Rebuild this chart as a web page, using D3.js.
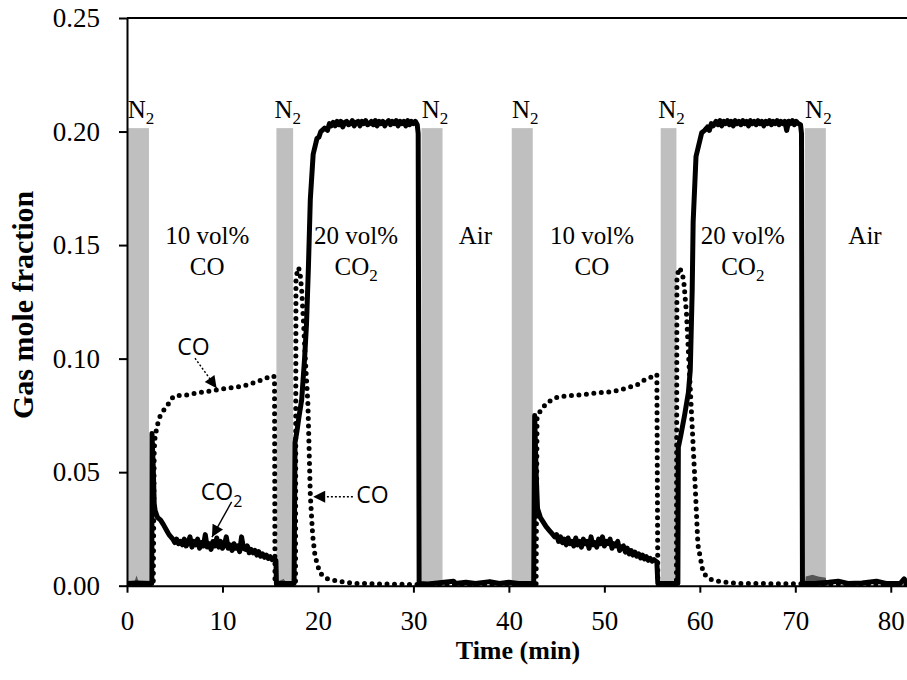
<!DOCTYPE html>
<html>
<head>
<meta charset="utf-8">
<script src="https://cdn.jsdelivr.net/npm/d3@7"></script>
<style>
  body { margin: 0; background: #fff; }
  svg text { font-family: "Liberation Serif", "Times New Roman", serif; fill: #000; }
  .note { font-family: "Open Sans", sans-serif; }
  .axis path, .axis line { stroke: #000; stroke-width: 2; }
</style>
</head>
<body>
<svg id="chart" width="907" height="680"></svg>
<script>
// N2 purge windows (min)
const n2Start = [0, 15.65, 30.85, 40.3, 55.9, 71.0];
const n2End   = [2.3, 17.4, 33.05, 42.5, 57.55, 73.2];
const n2Top = 0.2015;

// gas phases written between the purges
const phaseLine1 = ['10 vol%', '20 vol%', 'Air', '10 vol%', '20 vol%', 'Air'];
const phaseLine2 = ['CO', 'CO', '', 'CO', 'CO', ''];
const phaseSub   = ['', '2', '', '', '2', ''];
const phaseAt    = [8.4, 24.0, 36.5, 48.7, 64.5, 77.3];

// CO2 outlet fraction [min, fraction] (solid line)
const co2Data = [
  [0, 0.001], [1, 0.0012], [2.6, 0.001], [2.62, 0.067], [2.75, 0.052], [2.85, 0.036], [2.95, 0.033],
  [3.2, 0.030], [3.5, 0.029], [3.8, 0.027], [4.2, 0.024], [4.4, 0.0225],
  [4.6, 0.0215], [4.8, 0.0205], [5.0, 0.019], [5.2, 0.0205], [5.4, 0.0185], [5.6, 0.0195], [5.8, 0.018],
  [6.0, 0.0205], [6.2, 0.0175], [6.4, 0.019], [6.6, 0.0215], [6.8, 0.017], [7.0, 0.0195], [7.2, 0.018],
  [7.4, 0.0205], [7.6, 0.0165], [7.8, 0.019], [8.0, 0.0175], [8.2, 0.0225], [8.4, 0.017], [8.6, 0.0185],
  [8.8, 0.016], [9.0, 0.0195], [9.2, 0.0175], [9.4, 0.021], [9.6, 0.017], [9.8, 0.0195], [10.0, 0.0165],
  [10.2, 0.018], [10.4, 0.0215], [10.6, 0.0165], [10.8, 0.018], [11.0, 0.0155], [11.2, 0.0185],
  [11.4, 0.0165], [11.6, 0.0175], [11.8, 0.015], [12.0, 0.0215], [12.2, 0.0165], [12.4, 0.016],
  [12.6, 0.0175], [12.8, 0.0145], [13.0, 0.016], [13.2, 0.0145], [13.4, 0.0155], [13.6, 0.0135],
  [13.8, 0.015], [14.0, 0.013], [14.2, 0.014], [14.4, 0.0125], [14.6, 0.0135], [14.8, 0.012],
  [15.0, 0.0128], [15.2, 0.0115], [15.4, 0.012], [15.6, 0.011],
  [15.65, 0.001], [17.5, 0.001], [17.6, 0.063], [17.8, 0.068], [18.0, 0.074], [18.3, 0.082], [18.6, 0.10],
  [18.8, 0.115], [19.0, 0.14], [19.2, 0.17], [19.5, 0.19], [19.9, 0.197], [20.1, 0.1975], [20.3, 0.200],
  [20.7, 0.2015], [21.0, 0.2005], [21.2, 0.2035], [21.4, 0.2025], [21.6, 0.204], [21.8, 0.2025],
  [22.0, 0.2045], [22.2, 0.203], [22.4, 0.2045], [22.6, 0.202], [22.8, 0.204], [23.0, 0.2045],
  [23.2, 0.203], [23.4, 0.2035], [23.6, 0.2048], [23.8, 0.2025], [24.0, 0.204], [24.2, 0.2045],
  [24.4, 0.2025], [24.6, 0.2045], [24.8, 0.2035], [25.0, 0.2048], [25.2, 0.203], [25.4, 0.2035],
  [25.6, 0.2045], [25.8, 0.203], [26.0, 0.2048], [26.2, 0.2025], [26.4, 0.2045], [26.6, 0.2035],
  [26.8, 0.2045], [27.0, 0.2025], [27.2, 0.204], [27.4, 0.2048], [27.6, 0.203], [27.8, 0.2045],
  [28.0, 0.2035], [28.2, 0.2048], [28.4, 0.2025], [28.6, 0.2045], [28.8, 0.2035], [29.0, 0.2045],
  [29.2, 0.2025], [29.4, 0.2048], [29.6, 0.203], [29.8, 0.2045], [30.0, 0.2035], [30.2, 0.2045],
  [30.4, 0.203], [30.5, 0.199], [30.6, 0.001], [31.5, 0.0008], [32.5, 0.0012],
  [34.2, 0.002], [34.4, 0.001], [35.5, 0.0015], [36.5, 0.001], [38.0, 0.0018], [39.0, 0.001],
  [40.0, 0.0015], [41.0, 0.001], [42.6, 0.001],
  [42.7, 0.075], [42.85, 0.05], [43.0, 0.034], [43.3, 0.030], [43.6, 0.028], [43.9, 0.026],
  [44.2, 0.0245], [44.5, 0.023], [44.8, 0.0215], [45.0, 0.0225], [45.2, 0.0195], [45.4, 0.0215],
  [45.6, 0.019], [45.8, 0.0205], [46.0, 0.018], [46.2, 0.021], [46.4, 0.0185], [46.6, 0.0195],
  [46.8, 0.0175], [47.0, 0.021], [47.2, 0.018], [47.4, 0.0195], [47.6, 0.017], [47.8, 0.0205],
  [48.0, 0.0185], [48.2, 0.0195], [48.4, 0.0165], [48.6, 0.0215], [48.8, 0.018], [49.0, 0.019],
  [49.2, 0.017], [49.4, 0.0205], [49.6, 0.0185], [49.8, 0.0215], [50.0, 0.0175], [50.2, 0.0195],
  [50.4, 0.0185], [50.6, 0.0205], [50.8, 0.0165], [51.0, 0.0185], [51.2, 0.0175], [51.4, 0.0195],
  [51.6, 0.0155], [51.8, 0.017], [52.0, 0.0175], [52.2, 0.0148], [52.4, 0.0165], [52.6, 0.014],
  [52.8, 0.0155], [53.0, 0.0135], [53.2, 0.0148], [53.4, 0.013], [53.6, 0.014], [53.8, 0.0122],
  [54.0, 0.0135], [54.2, 0.0118], [54.4, 0.0128], [54.6, 0.0112], [54.8, 0.012], [55.0, 0.0108],
  [55.2, 0.0115], [55.5, 0.0105], [55.6, 0.001], [57.7, 0.001],
  [57.75, 0.061], [58.0, 0.066], [58.4, 0.075], [58.8, 0.085], [59.0, 0.095], [59.2, 0.13], [59.3, 0.16],
  [59.6, 0.189], [60.2, 0.1995], [60.5, 0.2005], [60.8, 0.202], [61.0, 0.2005], [61.2, 0.2035],
  [61.4, 0.2025], [61.7, 0.2045], [61.9, 0.203], [62.1, 0.2048], [62.3, 0.2025], [62.5, 0.2045],
  [62.7, 0.2035], [62.9, 0.2048], [63.1, 0.203], [63.3, 0.2045], [63.5, 0.2025], [63.7, 0.2048],
  [63.9, 0.2035], [64.1, 0.2045], [64.3, 0.203], [64.5, 0.2048], [64.7, 0.2035], [64.9, 0.2045],
  [65.1, 0.2025], [65.3, 0.2048], [65.5, 0.2035], [65.7, 0.2045], [65.9, 0.203], [66.1, 0.2048],
  [66.3, 0.2035], [66.5, 0.2045], [66.7, 0.2025], [66.9, 0.2045], [67.1, 0.2035], [67.3, 0.2048],
  [67.5, 0.203], [67.7, 0.2045], [67.9, 0.2035], [68.1, 0.2048], [68.3, 0.203], [68.5, 0.2045],
  [68.7, 0.2035], [68.9, 0.2045], [69.1, 0.2005], [69.3, 0.2045], [69.5, 0.2035], [69.7, 0.2048],
  [69.9, 0.203], [70.1, 0.2045], [70.3, 0.2035], [70.55, 0.203], [70.65, 0.199], [70.75, 0.001],
  [72.0, 0.001], [73.5, 0.0015], [74.5, 0.002], [75.5, 0.001], [77.0, 0.0012], [78.5, 0.002],
  [79.5, 0.001], [81.0, 0.001], [81.4, 0.003], [81.7, 0.001]
];

// CO outlet fraction [min, fraction] (dotted line)
const coData = [
  [0, 0.0005], [2.75, 0.0005], [2.8, 0.03], [2.85, 0.06], [2.95, 0.066], [3.2, 0.071], [3.45, 0.0745],
  [3.8, 0.077], [4.15, 0.079], [4.5, 0.081], [4.85, 0.0833], [5.5, 0.0838], [6.25, 0.084], [7.5, 0.085],
  [9.4, 0.0862], [10.5, 0.087], [11.8, 0.0877], [12.7, 0.0885], [13.6, 0.0899], [14.4, 0.091],
  [15.15, 0.0925], [15.45, 0.092], [15.5, 0.0005], [17.65, 0.0005], [17.7, 0.135], [17.9, 0.14],
  [18.1, 0.139], [18.3, 0.13], [18.5, 0.115], [18.7, 0.098], [18.95, 0.08], [19.2, 0.04], [19.45, 0.022],
  [19.7, 0.013], [20.2, 0.0056], [21.0, 0.003], [22.3, 0.0018], [24.0, 0.001], [30.0, 0.0005],
  [42.85, 0.0005], [42.9, 0.04], [42.95, 0.074], [43.3, 0.077], [43.8, 0.0796], [44.5, 0.082],
  [45.3, 0.0833], [47.4, 0.084], [49.0, 0.0848], [50.9, 0.0855], [52.3, 0.087], [53.4, 0.0884],
  [54.2, 0.0906], [55.0, 0.092], [55.5, 0.093], [55.6, 0.0005], [57.55, 0.0005], [57.6, 0.135],
  [57.8, 0.14], [58.0, 0.139], [58.3, 0.135], [58.6, 0.12], [58.9, 0.095], [59.2, 0.07], [59.5, 0.045],
  [59.8, 0.018], [60.35, 0.0056], [61.0, 0.003], [62.1, 0.0018], [64.0, 0.001], [81.7, 0.0005]
];

// residual signal under the N2 bars (dark grey)
const residualData = [
  [0, 0.002], [0.8, 0.002], [1.0, 0.0045], [1.2, 0.002], [2.3, 0.002], [2.4, 0],
  [15.7, 0], [15.8, 0.002], [16.4, 0.003], [16.6, 0.002], [17.4, 0.002], [17.5, 0],
  [71.0, 0], [71.1, 0.004], [71.8, 0.0048], [72.4, 0.004], [73.2, 0.0035], [73.3, 0]
];

const yTicks = [0, 0.05, 0.10, 0.15, 0.20, 0.25];
const xTicks = [0, 10, 20, 30, 40, 50, 60, 70, 80];

const W = 907, H = 680;
const margin = { top: 18, right: 0, bottom: 94.3, left: 127 };

const svg = d3.select('#chart');
const x = d3.scaleLinear().domain([0, 81.7]).range([margin.left, W - margin.right]);
const y = d3.scaleLinear().domain([0, 0.25]).range([H - margin.bottom, margin.top]);

svg.append('defs').append('clipPath').attr('id', 'plot')
  .append('rect').attr('x', margin.left).attr('y', margin.top - 10)
  .attr('width', W - margin.left).attr('height', H - margin.bottom - margin.top + 20);

svg.select('defs').append('marker')
  .attr('id', 'head').attr('viewBox', '0 0 10 10')
  .attr('refX', 10).attr('refY', 5)
  .attr('markerWidth', 15).attr('markerHeight', 12)
  .attr('markerUnits', 'userSpaceOnUse')
  .attr('orient', 'auto')
  .append('path').attr('d', 'M0,0L10,5L0,10Z').attr('fill', '#000');

// N2 bars
svg.append('g').selectAll('rect').data(n2Start).join('rect')
  .attr('x', (d, i) => x(d))
  .attr('width', (d, i) => x(n2End[i]) - x(d))
  .attr('y', y(n2Top))
  .attr('height', y(0) - y(n2Top))
  .attr('fill', '#bfbfbf');

// N2 labels
const n2Lab = svg.append('g').selectAll('text').data(n2Start).join('text')
  .attr('x', (d, i) => (x(d) + x(n2End[i])) / 2 + 3)
  .attr('y', y(n2Top) - 10)
  .attr('text-anchor', 'middle')
  .style('font-size', '25px');
n2Lab.append('tspan').text('N');
n2Lab.append('tspan').attr('dy', 6).style('font-size', '17px').text('2');

// phase labels
const ph = svg.append('g').selectAll('g').data(phaseAt).join('g')
  .attr('transform', d => `translate(${x(d)},${y(0.1505)})`)
  .style('font-size', '25px');
ph.append('text').attr('text-anchor', 'middle').text((d, i) => phaseLine1[i]);
const l2 = ph.append('text').attr('text-anchor', 'middle').attr('y', 31);
l2.append('tspan').text((d, i) => phaseLine2[i]);
l2.append('tspan').attr('dy', 6).style('font-size', '17px').text((d, i) => phaseSub[i]);

const plot = svg.append('g').attr('clip-path', 'url(#plot)');

plot.append('path').datum(residualData)
  .attr('d', d3.area().x(d => x(d[0])).y0(y(0)).y1(d => y(d[1])))
  .attr('fill', '#555');

plot.append('path').datum(coData)
  .attr('d', d3.line().x(d => x(d[0])).y(d => y(d[1])))
  .attr('fill', 'none').attr('stroke', '#000')
  .attr('stroke-width', 5).attr('stroke-linecap', 'round')
  .attr('stroke-dasharray', '0,7.5');

plot.append('path').datum(co2Data)
  .attr('d', d3.line().x(d => x(d[0])).y(d => y(d[1])))
  .attr('fill', 'none').attr('stroke', '#000')
  .attr('stroke-width', 5).attr('stroke-linejoin', 'round');

// axes
svg.append('g').attr('class', 'axis')
  .attr('transform', `translate(${margin.left},0)`)
  .call(d3.axisLeft(y).tickValues(yTicks).tickFormat(d3.format('.2f')).tickSizeInner(8).tickSizeOuter(0).tickPadding(19))
  .call(g => g.selectAll('text').style('font-size', '27px').attr('font-family', null));

svg.append('g').attr('class', 'axis')
  .attr('transform', `translate(0,${y(0)})`)
  .call(d3.axisBottom(x).tickValues(xTicks).tickFormat(d3.format('d')).tickSizeInner(7).tickSizeOuter(0).tickPadding(18))
  .call(g => g.selectAll('text').style('font-size', '27px').attr('font-family', null));

svg.append('line')
  .attr('x1', margin.left).attr('x2', W).attr('y1', y(0.25)).attr('y2', y(0.25))
  .attr('stroke', '#000').attr('stroke-width', 2);

svg.append('text')
  .attr('x', (margin.left + W) / 2 + 1).attr('y', 659)
  .attr('text-anchor', 'middle').style('font-size', '26px').style('font-weight', 'bold')
  .text('Time (min)');

svg.append('text')
  .attr('transform', `translate(33,${(y(0) + y(0.25)) / 2 + 3}) rotate(-90)`)
  .attr('text-anchor', 'middle').style('font-size', '30px').style('font-weight', 'bold')
  .text('Gas mole fraction');

// annotation arrows, in data units
const notes = [
  { label: 'CO', sub: '', tx: 6.95, tv: 0.1016, from: [7.12, 0.1002], to: [9.39, 0.087], dash: '2,2' },
  { label: 'CO', sub: '2', tx: 9.9, tv: 0.0378, from: [10.96, 0.0369], to: [8.9, 0.0214], dash: null },
  { label: 'CO', sub: '', tx: 25.7, tv: 0.0363, from: [23.66, 0.0392], to: [19.5, 0.0392], dash: '2,2' }
];
const ng = svg.append('g').selectAll('g').data(notes).join('g');
ng.append('line')
  .attr('x1', d => x(d.from[0])).attr('y1', d => y(d.from[1]))
  .attr('x2', d => x(d.to[0])).attr('y2', d => y(d.to[1]))
  .attr('stroke', '#000').attr('stroke-width', 1.4)
  .attr('stroke-dasharray', d => d.dash)
  .attr('marker-end', 'url(#head)');
const nt = ng.append('text').attr('class', 'note')
  .attr('x', d => x(d.tx)).attr('y', d => y(d.tv))
  .attr('text-anchor', 'middle').style('font-size', '23px');
nt.append('tspan').text(d => d.label);
nt.append('tspan').attr('dy', 7).style('font-size', '16px').text(d => d.sub);
</script>
</body>
</html>
